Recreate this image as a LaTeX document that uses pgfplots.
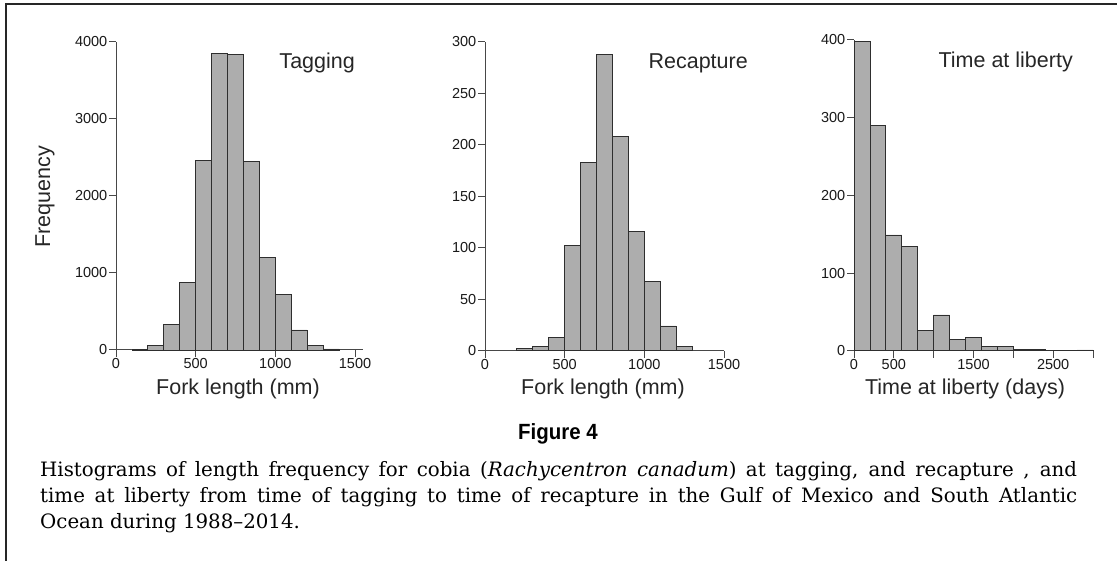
\documentclass[border=0pt]{standalone}
\usepackage{fontspec}
\setmainfont{Liberation Sans}
\newfontfamily\capfont[Ligatures=TeX]{DejaVu Serif}
\usepackage{pgfplots}
\pgfplotsset{compat=1.18}
\definecolor{barfill}{HTML}{ADADAD}
\definecolor{bardraw}{HTML}{2E2E2E}
\definecolor{axisgray}{HTML}{484848}
\pgfplotsset{
  histo/.style={
    scale only axis, anchor=south west,
    axis lines=left,
    axis line style={-, draw=axisgray, line width=1pt},
    tick align=outside,
    major tick length=7pt,
    tick style={draw=axisgray, line width=1pt},
    ticklabel style={font=\fontsize{14.5}{17}\selectfont, text=black!90},
    yticklabel style={inner sep=1.5pt},
    xticklabel style={inner sep=1.5pt},
    /pgf/number format/assume math mode=true,
    /pgf/number format/1000 sep={},
    ymin=0, xmin=0,
    clip=false,
  },
  bars/.style={ybar, bar shift=0pt, fill=barfill, draw=bardraw, line width=0.8pt},
}
\newcommand{\labfont}{\fontsize{21.5}{26}\selectfont}
\begin{document}
\begin{tikzpicture}
\useasboundingbox (0,0) rectangle (1117pt,561pt);
\draw[line width=2pt, black!85] (6pt,0pt) -- (6pt,557pt) -- (1117pt,557pt);

% Panel 1: Tagging
\begin{axis}[histo, at={(116pt,211pt)}, width=247pt, height=308.3pt,
  xmax=1550, ymax=4000,
  xtick={0,500,1000,1500}, ytick={0,1000,2000,3000,4000}]
\addplot[bars, bar width=100] coordinates {
(150,9) (250,61) (350,333) (450,874) (550,2465) (650,3844) (750,3830)
(850,2445) (950,1199) (1050,725) (1150,260) (1250,57) (1350,13)};
\end{axis}

% Panel 2: Recapture
\begin{axis}[histo, at={(485pt,210.3pt)}, width=239pt, height=309pt,
  xmax=1500, ymax=300,
  xtick={0,500,1000,1500}, ytick={0,50,100,150,200,250,300}]
\addplot[bars, bar width=100] coordinates {
(250,2) (350,4) (450,13) (550,102) (650,183) (750,288) (850,208)
(950,116) (1050,67) (1150,24) (1250,4)};
\end{axis}

% Panel 3: Time at liberty
\begin{axis}[histo, at={(854pt,210.3pt)}, width=239pt, height=310.7pt,
  xmax=3000, ymax=400,
  xtick={0,500,1000,1500,2000,2500,3000},
  xticklabels={0,500,,1500,,2500,},
  ytick={0,100,200,300,400}]
\addplot[bars, bar width=200] coordinates {
(100,398) (300,290) (500,149) (700,134) (900,26) (1100,46) (1300,14)
(1500,17) (1700,6) (1900,6) (2100,2) (2300,2) (2500,0) (2700,0) (2900,1)};
\end{axis}

% labels
\node[rotate=90, anchor=center, text=black!85] at (45pt,364pt) {\labfont Frequency};
\node[anchor=base, inner sep=0pt, text=black!85] at (238pt,166pt) {\labfont Fork length (mm)};
\node[anchor=base, inner sep=0pt, text=black!85] at (603pt,166pt) {\labfont Fork length (mm)};
\node[anchor=base, inner sep=0pt, text=black!85] at (965pt,166pt) {\labfont Time at liberty (days)};
\node[anchor=base east, inner sep=0pt, text=black!85] at (355pt,492pt) {\labfont Tagging};
\node[anchor=base east, inner sep=0pt, text=black!85] at (748pt,492.5pt) {\labfont Recapture};
\node[anchor=base east, inner sep=0pt, text=black!85] at (1073pt,493pt) {\labfont Time at liberty};

% caption
\node[anchor=base, inner sep=0pt] at (558pt,121pt) {\scalebox{0.93}[1]{\fontsize{22}{26}\selectfont\bfseries Figure 4}};
\node[anchor=base west, inner sep=0pt] at (40pt,84.3pt) {\capfont\fontsize{19.8}{26}\selectfont\makebox[1037pt][s]{Histograms of length frequency for cobia (\textit{Rachycentron canadum}) at tagging, and recapture , and}};
\node[anchor=base west, inner sep=0pt] at (40pt,58pt) {\capfont\fontsize{19.8}{26}\selectfont\makebox[1037pt][s]{time at liberty from time of tagging to time of recapture in the Gulf of Mexico and South Atlantic}};
\node[anchor=base west, inner sep=0pt] at (40pt,32pt) {\capfont\fontsize{19.8}{26}\selectfont Ocean during 1988--2014.};
\end{tikzpicture}
\end{document}
